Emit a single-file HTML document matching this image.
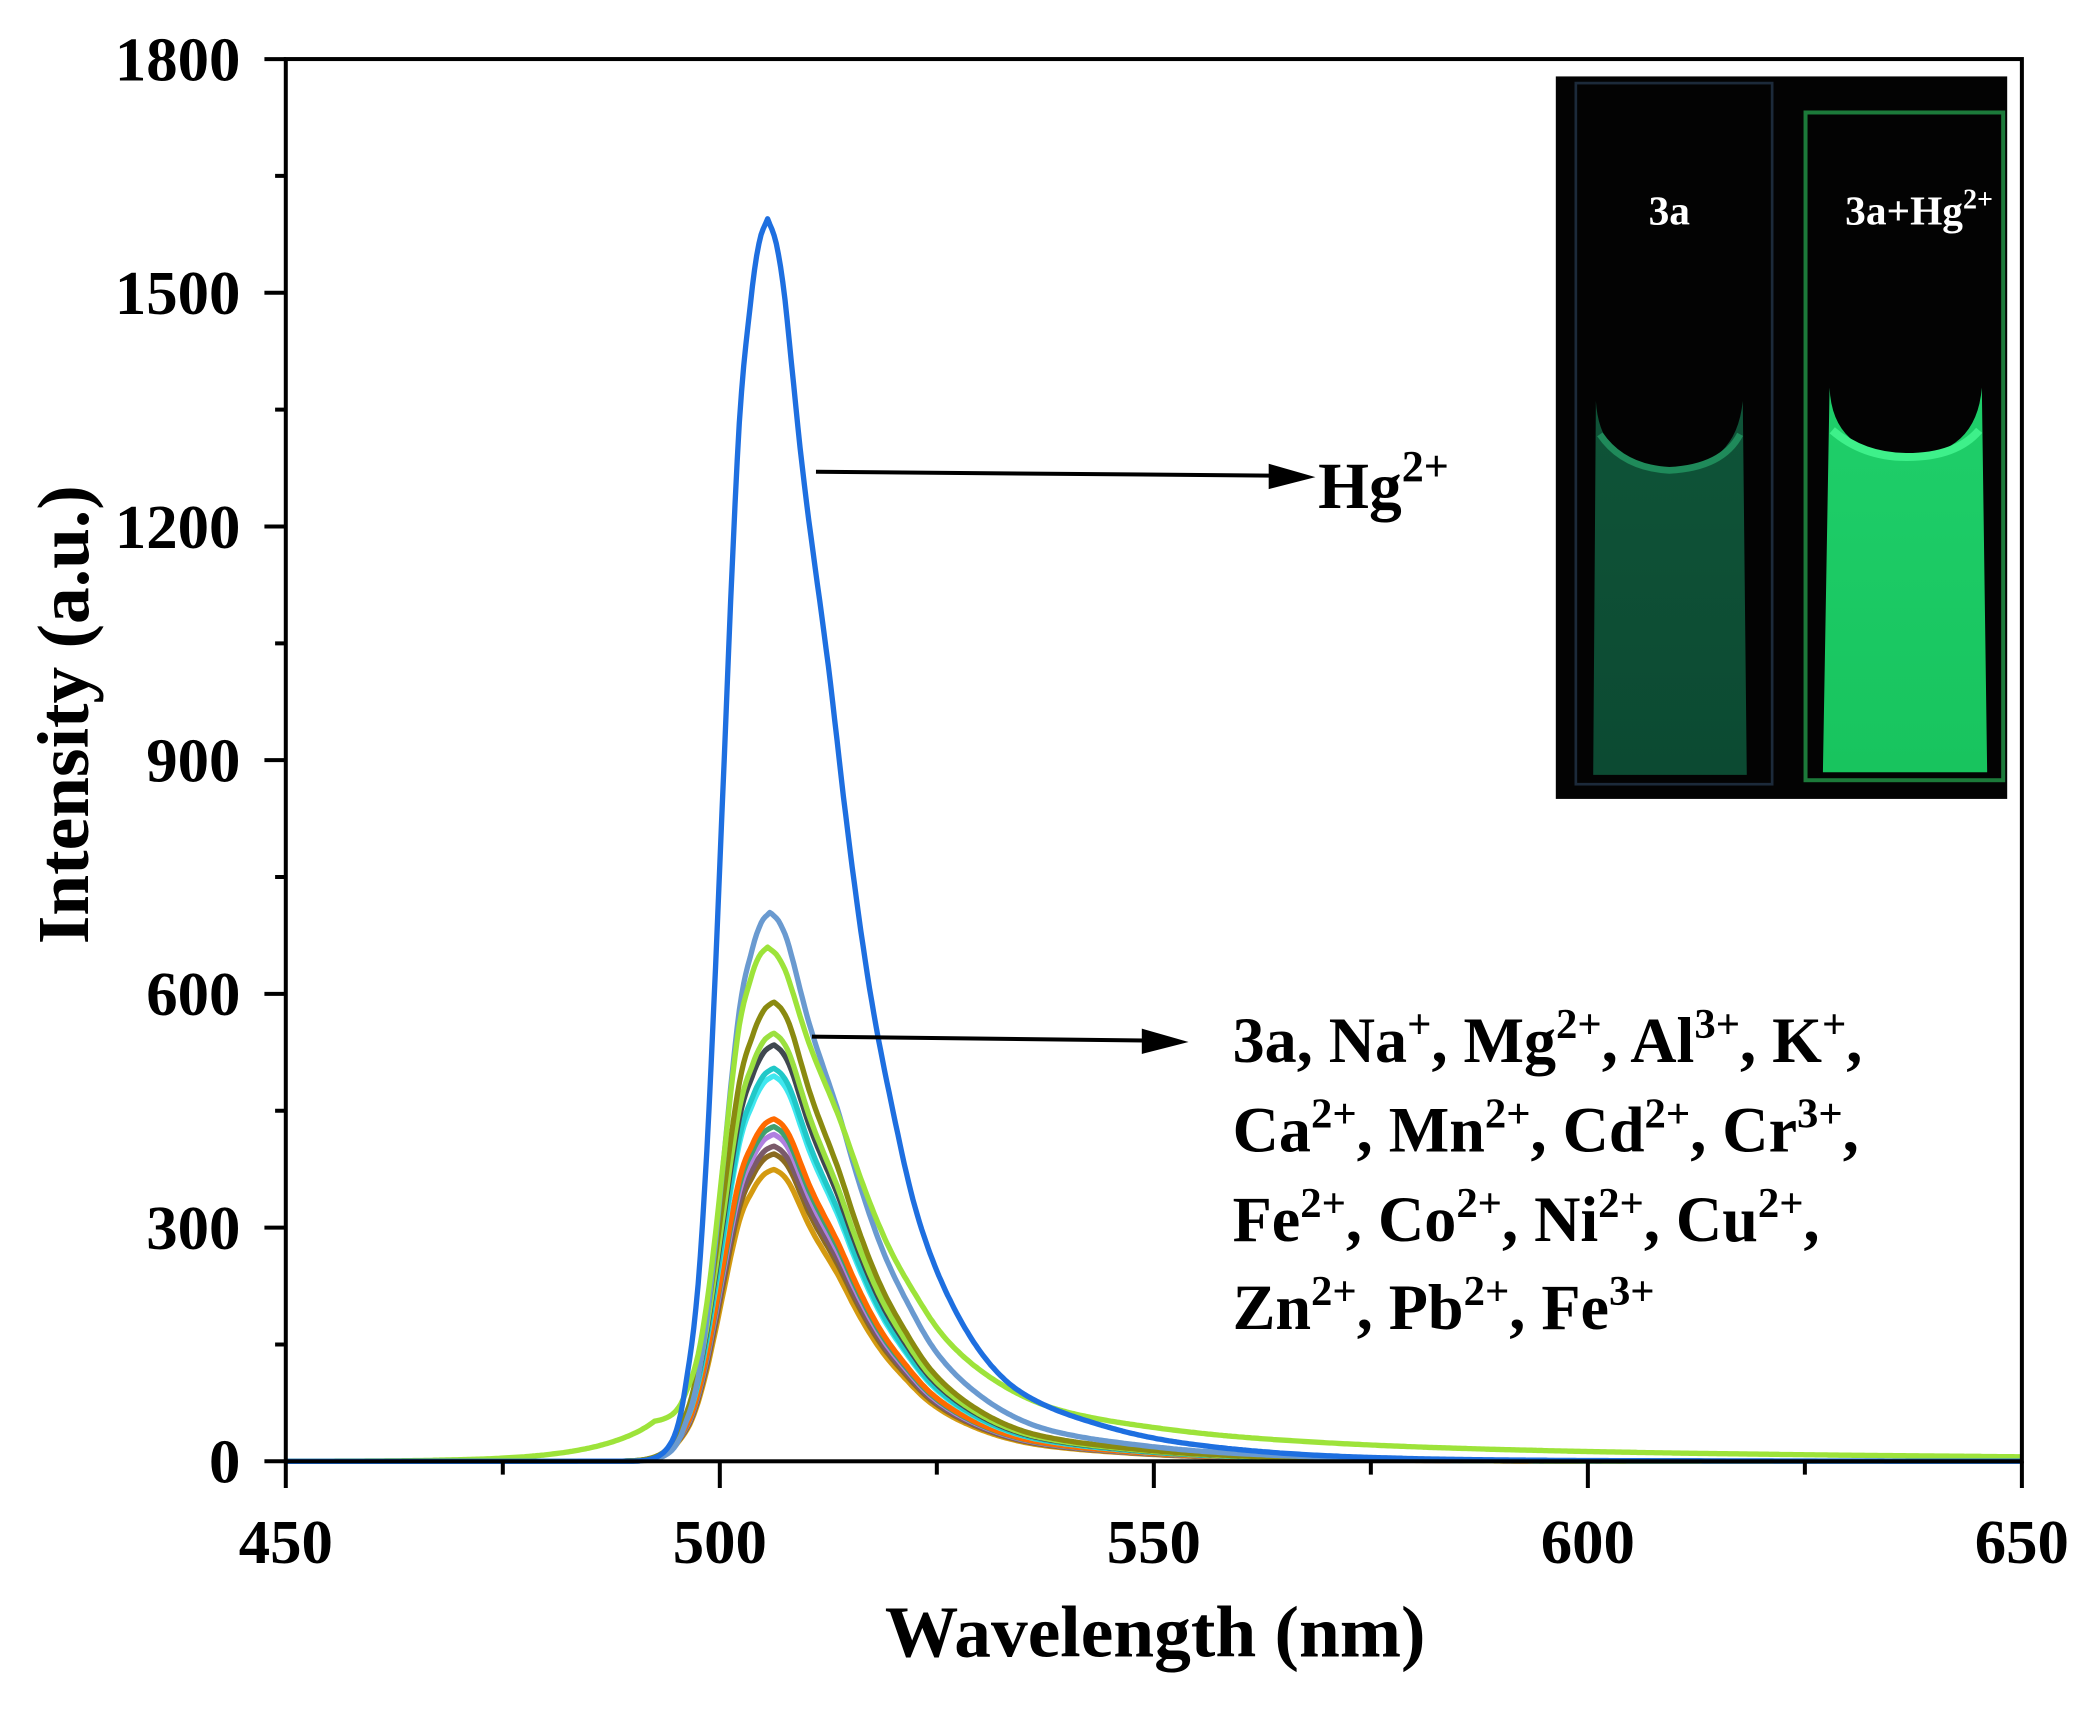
<!DOCTYPE html>
<html><head><meta charset="utf-8"><style>
html,body{margin:0;padding:0;background:#fff;}
svg{display:block;}
text{font-family:"Liberation Serif",serif;font-weight:bold;fill:#000;}
</style></head><body>
<svg id="s" width="2094" height="1710" viewBox="0 0 1568 1280" xmlns="http://www.w3.org/2000/svg">
<rect width="1568" height="1280" fill="#fff"/>
<g id="curves"></g>
<rect x="214" y="44" width="1300" height="1050" fill="none" stroke="#000" stroke-width="3"/>
<g id="ticks" stroke="#000" stroke-width="3"></g>
<g font-size="47" text-anchor="end">
<text x="180" y="1110">0</text><text x="180" y="935">300</text><text x="180" y="760">600</text>
<text x="180" y="585">900</text><text x="180" y="410">1200</text><text x="180" y="235">1500</text><text x="180" y="60">1800</text>
</g>
<g font-size="47" text-anchor="middle">
<text x="214" y="1170">450</text><text x="539" y="1170">500</text><text x="864" y="1170">550</text>
<text x="1189" y="1170">600</text><text x="1514" y="1170">650</text>
</g>
<text x="865" y="1240" font-size="55" text-anchor="middle">Wavelength (nm)</text>
<text transform="translate(66,535) rotate(-90)" font-size="55" text-anchor="middle">Intensity (a.u.)</text>
<!-- inset photo -->
<rect x="1165" y="57" width="338" height="541" fill="#030303"/>
<defs>
<linearGradient id="g1" x1="0" y1="0" x2="0" y2="1"><stop offset="0" stop-color="#0f5438"/><stop offset="1" stop-color="#0c4a32"/></linearGradient>
<linearGradient id="g2" x1="0" y1="0" x2="0" y2="1"><stop offset="0" stop-color="#1fcf6a"/><stop offset="1" stop-color="#18c45e"/></linearGradient>
</defs>
<rect x="1180" y="62" width="147" height="525" fill="none" stroke="#1c2a3a" stroke-width="2"/>
<path d="M1195 300 Q1198 350 1250 352 Q1300 350 1305 300 L1308 580 L1193 580 Z" fill="url(#g1)"/>
<path d="M1198 325 Q1215 350 1250 352 Q1290 350 1303 325" fill="none" stroke="#1f8a5a" stroke-width="5"/>
<rect x="1352" y="84" width="148" height="500" fill="none" stroke="#1c7a3a" stroke-width="3"/>
<path d="M1370 290 Q1372 340 1428 342 Q1480 340 1484 290 L1488 578 L1365 578 Z" fill="url(#g2)"/>
<path d="M1372 322 Q1395 342 1428 342 Q1465 342 1482 322" fill="none" stroke="#3ef08a" stroke-width="6"/>
<text x="1250" y="168" font-size="31" style="fill:#fff" text-anchor="middle">3a</text>
<text x="1437" y="168" font-size="31" style="fill:#fff" text-anchor="middle">3a+Hg<tspan dy="-12" font-size="21">2+</tspan></text>
<!-- arrows -->
<line x1="611" y1="353" x2="960" y2="356" stroke="#000" stroke-width="3"/>
<polygon points="985,357 950,347 950,366" fill="#000"/>
<text x="987" y="380" font-size="49">Hg<tspan dy="-20" font-size="33">2+</tspan></text>
<line x1="608" y1="776" x2="865" y2="779" stroke="#000" stroke-width="3"/>
<polygon points="890,780 855,770 855,789" fill="#000"/>
<g font-size="48">
<text x="923" y="795">3a, Na<tspan dy="-18" font-size="32">+</tspan><tspan dy="18">, Mg</tspan><tspan dy="-18" font-size="32">2+</tspan><tspan dy="18">, Al</tspan><tspan dy="-18" font-size="32">3+</tspan><tspan dy="18">, K</tspan><tspan dy="-18" font-size="32">+</tspan><tspan dy="18">,</tspan></text>
<text x="923" y="862">Ca<tspan dy="-18" font-size="32">2+</tspan><tspan dy="18">, Mn</tspan><tspan dy="-18" font-size="32">2+</tspan><tspan dy="18">, Cd</tspan><tspan dy="-18" font-size="32">2+</tspan><tspan dy="18">, Cr</tspan><tspan dy="-18" font-size="32">3+</tspan><tspan dy="18">,</tspan></text>
<text x="923" y="929">Fe<tspan dy="-18" font-size="32">2+</tspan><tspan dy="18">, Co</tspan><tspan dy="-18" font-size="32">2+</tspan><tspan dy="18">, Ni</tspan><tspan dy="-18" font-size="32">2+</tspan><tspan dy="18">, Cu</tspan><tspan dy="-18" font-size="32">2+</tspan><tspan dy="18">,</tspan></text>
<text x="923" y="995">Zn<tspan dy="-18" font-size="32">2+</tspan><tspan dy="18">, Pb</tspan><tspan dy="-18" font-size="32">2+</tspan><tspan dy="18">, Fe</tspan><tspan dy="-18" font-size="32">3+</tspan></text>
</g>
</svg>
<script>
var NS="http://www.w3.org/2000/svg";
function X(l){return 214+(l-450)*6.5;}
function Y(i){return 1094-i*0.58333;}
var R=[[0,1],[1,0.98],[2,0.935],[4,0.8],[7,0.64],[9,0.52],[12,0.37],[14.5,0.28],[17.3,0.197],[21,0.13],[27.6,0.064],[32,0.045],[38,0.03],[45,0.018],[55,0.009],[70,0.003],[90,0.0008],[200,0.00001]];
var L=[[0,1],[1,0.98],[2,0.93],[3.3,0.83],[4.5,0.65],[5.8,0.43],[7,0.25],[8.3,0.12],[9.4,0.063],[10.5,0.025],[12,0.007],[14,0.001],[16,0.0001],[100,0.0000001]];
function cr(t,d){ // catmull-rom in log space
 if(d>=t[t.length-1][0])return 0;
 var n=t.length,i=0;while(i<n-2&&d>t[i+1][0])i++;
 function v(k){k=Math.max(0,Math.min(n-1,k));return Math.log(t[k][1]);}
 function xx(k){k=Math.max(0,Math.min(n-1,k));return t[k][0];}
 var x0=xx(i),x1=xx(i+1),s=(d-x0)/(x1-x0);
 var p0=v(i-1),p1=v(i),p2=v(i+1),p3=v(i+2);
 var m1=(i>0)?(p2-p0)/(xx(i+1)-xx(i-1))*(x1-x0):(p2-p1);
 var m2=(p3-p1)/(xx(i+2)-xx(i)||1)*(x1-x0); if(i+2>=n)m2=p2-p1;
 var s2=s*s,s3=s2*s;
 var r=(2*s3-3*s2+1)*p1+(s3-2*s2+s)*m1+(-2*s3+3*s2)*p2+(s3-s2)*m2;
 return Math.exp(r);}
function prof(d,rs,ls){return d>=0?cr(R,d*rs):cr(L,-d*ls);}
var g=document.getElementById("curves");
function curve(p,A,col,w,extra,rs,ls){var s="";for(var l=450;l<=650;l+=0.25){var v=A*prof(l-p,rs||1,ls||1)+(extra?extra(l):0);s+=(s?"L":"M")+X(l).toFixed(1)+" "+Y(v).toFixed(1);}
var e=document.createElementNS(NS,"path");e.setAttribute("d",s);e.setAttribute("fill","none");e.setAttribute("stroke",col);e.setAttribute("stroke-width",w);e.setAttribute("stroke-linejoin","round");g.appendChild(e);}
var cs=[[375,"#d49a10"],[395,"#8a6a20"],[405,"#7a5a6a"],[420,"#b080e0"],[430,"#40a070"],[440,"#ff6a00"],[495,"#40e8f0"],[505,"#20c8c8"],[535,"#404850"],[550,"#9be040"],[590,"#8a8a10"]];
cs.forEach(function(c){curve(506.2,c[0],c[1],4,null,0.95,0.85);});
curve(505.8,705,"#6a9ad0",4,null,0.9,0.95);
curve(505.5,610,"#9de33a",4,function(l){var d=l-505.5;if(d<-13)return 50*Math.exp((d+13)/7);if(d<0)return 50*(1+0*d);return 50*Math.exp(-d/14)*0.5+25+ (45*Math.exp(-d/70)-25)*Math.min(1,d/10);},0.85,1);
curve(505.5,1595,"#1e6fe0",4,null,1,1);
var t=document.getElementById("ticks"),s="";
for(var i=0;i<=12;i++){var y=1094-i*87.5;var len=(i%2==0)?16:8;s+="M214 "+y+"H"+(214-len);}
for(var j=0;j<=8;j++){var x=214+j*162.5;var len=(j%2==0)?20:10;s+="M"+x+" 1094V"+(1094+len);}
var p=document.createElementNS(NS,"path");p.setAttribute("d",s);t.appendChild(p);
</script>
</body></html>
